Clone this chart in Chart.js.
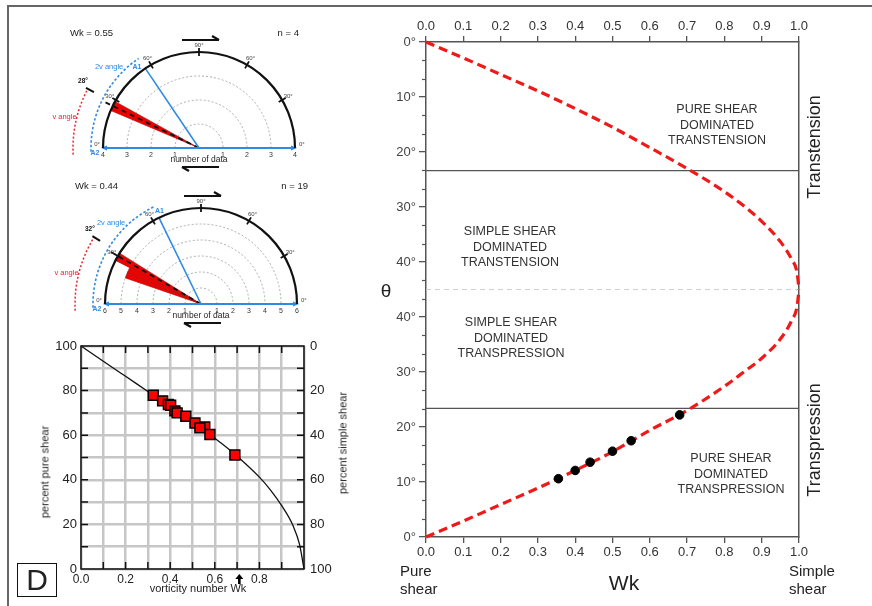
<!DOCTYPE html>
<html><head><meta charset="utf-8">
<script src="https://cdn.jsdelivr.net/npm/chart.js@4.4.1/dist/chart.umd.min.js"></script>
<style>
html,body{margin:0;padding:0;background:#fff;}
body{width:872px;height:606px;position:relative;overflow:hidden;font-family:"Liberation Sans",Arial,Helvetica,sans-serif;color:#222;}
canvas{position:absolute;}
.t{position:absolute;white-space:nowrap;line-height:1;transform:translate(-50%,-50%);}
.l{position:absolute;white-space:nowrap;line-height:1;transform:translate(0,-50%);}
.r{position:absolute;white-space:nowrap;line-height:1;transform:translate(-100%,-50%);}
.reg{position:absolute;transform:translate(-50%,-50%);text-align:center;font-size:12.5px;line-height:15.5px;color:#333;white-space:nowrap;}
.rot{position:absolute;white-space:nowrap;line-height:1;transform:translate(-50%,-50%) rotate(-90deg);}
</style></head><body>
<div style="position:absolute;left:7px;top:5px;width:865px;height:0;border-top:2px solid #666;"></div>
<div style="position:absolute;left:7px;top:5px;width:0;height:601px;border-left:2px solid #666;"></div>

<canvas id="rose1" width="340" height="250" style="left:0;top:0;"></canvas>
<canvas id="rose2" width="340" height="250" style="left:0;top:160px;"></canvas>
<canvas id="ll" width="332" height="276" style="left:8px;top:330px;"></canvas>
<canvas id="main" width="512" height="606" style="left:360px;top:0;"></canvas>

<!-- rose texts -->
<div class="l" style="left:70px;top:33px;font-size:9.5px;">Wk = 0.55</div>
<div class="r" style="left:299px;top:33px;font-size:9.5px;">n = 4</div>
<div class="l" style="left:75px;top:186px;font-size:9.5px;">Wk = 0.44</div>
<div class="r" style="left:308px;top:186px;font-size:9.5px;">n = 19</div>

<!-- lower-left texts -->
<div class="rot" style="left:45px;top:472px;font-size:11px;">percent pure shear</div>
<div class="rot" style="left:343px;top:443px;font-size:11px;">percent simple shear</div>
<div class="t" style="left:198px;top:588px;font-size:11px;">vorticity number Wk</div>
<div style="position:absolute;left:17px;top:563px;width:38px;height:32px;border:1.5px solid #111;font-size:30px;line-height:32px;text-align:center;">D</div>

<!-- main texts -->
<div class="reg" style="left:717px;top:125px;">PURE SHEAR<br>DOMINATED<br>TRANSTENSION</div>
<div class="reg" style="left:510px;top:247px;">SIMPLE SHEAR<br>DOMINATED<br>TRANSTENSION</div>
<div class="reg" style="left:511px;top:338px;">SIMPLE SHEAR<br>DOMINATED<br>TRANSPRESSION</div>
<div class="reg" style="left:731px;top:474px;">PURE SHEAR<br>DOMINATED<br>TRANSPRESSION</div>
<div class="rot" style="left:814px;top:147px;font-size:18px;">Transtension</div>
<div class="rot" style="left:814px;top:440px;font-size:18px;">Transpression</div>
<div class="t" style="left:386px;top:290px;font-size:19px;">θ</div>
<div class="t" style="left:624px;top:582px;font-size:21px;">Wk</div>
<div style="position:absolute;left:400px;top:562px;font-size:15px;line-height:17.5px;">Pure<br>shear</div>
<div style="position:absolute;left:789px;top:562px;font-size:15px;line-height:17.5px;">Simple<br>shear</div>

<script>
// ================= DATA =================
// Rose diagram 1 (Wk = 0.55, n = 4); angles in degrees measured from A2 (left end of base line)
const rose1PetalFrom = [23];
const rose1PetalTo   = [29];
const rose1Counts    = [4];
const rose1Max = 4;
const rose1V = 28;        // v angle
const rose1TwoV = 56;     // 2v angle (A1)
const rose1Mean = 26;     // mean petal direction

// Rose diagram 2 (Wk = 0.44, n = 19)
const rose2PetalFrom = [19, 23, 27];
const rose2PetalTo   = [23, 27, 32];
const rose2Counts    = [5, 5, 6];
const rose2Max = 6;
const rose2V = 32;
const rose2TwoV = 64;
const rose2Mean = 30;

// Lower-left: percent pure shear vs vorticity number Wk
const pureCurveWk  = [0, 0.1, 0.2, 0.3, 0.4, 0.5, 0.6, 0.7, 0.8, 0.85, 0.9, 0.95, 0.98, 1.0];
const pureCurvePct = [100, 93.2, 86.4, 79.6, 72.8, 65.8, 58.6, 50.6, 41.2, 35.4, 28.4, 19.6, 11, 0];
const squareWk  = [0.324, 0.366, 0.392, 0.402, 0.421, 0.431, 0.47, 0.511, 0.555, 0.533, 0.578, 0.69];
const squarePct = [77.9, 75.4, 73.8, 73.4, 70.9, 70.0, 68.5, 65.5, 63.7, 63.3, 60.3, 51.1];
const arrowWk = 0.71;

// Main: theta vs Wk
const curveWk = [0, 0.1, 0.2, 0.3, 0.4, 0.5, 0.6, 0.7, 0.8, 0.85, 0.9, 0.95, 0.98, 0.995, 1.0];
const transtensionTheta  = [0, 2.9, 5.9, 8.9, 12.1, 15.5, 19.2, 23.0, 27.2, 29.7, 32.6, 36.3, 39.5, 42.0, 45];
const transpressionTheta = [0, 2.9, 5.9, 8.9, 12.1, 15.5, 19.4, 23.0, 27.4, 29.9, 32.5, 36.0, 39.3, 42.0, 45];
const pointWk    = [0.355, 0.40, 0.44, 0.50, 0.55, 0.68];
const pointTheta = [10.6, 12.1, 13.6, 15.6, 17.5, 22.2];
const boundaryTheta = 23.4;
const midTheta = 45;

// ================= CHARTS =================
const FONT = '"Liberation Sans", Arial, Helvetica, sans-serif';
Chart.defaults.font.family = FONT;
Chart.defaults.animation = false;
const fixW = w => s => { s.width = w; };
const fixH = h => s => { s.height = h; };
const RED = '#ee1a1a', BLUE = '#2e8be3';

function buildRose(from, to, counts) {
  const vals = [], angs = [];
  let cur = 0;
  for (let i = 0; i < from.length; i++) {
    if (from[i] > cur) { vals.push(0); angs.push(from[i] - cur); }
    vals.push(counts[i]); angs.push(to[i] - from[i]);
    cur = to[i];
  }
  vals.push(0); angs.push(360 - cur);
  return {vals, angs};
}

function rosePlugin(info) {
  return {
    id: 'roseDecor' + info.key,
    beforeDatasetsDraw(chart) {
      const s = chart.scales.r, ctx = chart.ctx, cx = s.xCenter, cy = s.yCenter;
      ctx.save();
      ctx.strokeStyle = '#9a9a9a'; ctx.lineWidth = 0.8; ctx.setLineDash([2, 2]);
      for (let v = 1; v < info.max; v++) {
        ctx.beginPath(); ctx.arc(cx, cy, s.getDistanceFromCenterForValue(v), Math.PI, 2 * Math.PI); ctx.stroke();
      }
      ctx.restore();
    },
    afterDatasetsDraw(chart) {
      const s = chart.scales.r, ctx = chart.ctx, cx = s.xCenter, cy = s.yCenter;
      const R = s.getDistanceFromCenterForValue(info.max);
      const rad = a => Math.PI + a * Math.PI / 180;
      const P = (a, r) => [cx + r * Math.cos(rad(a)), cy + r * Math.sin(rad(a))];
      const line = (p, q) => { ctx.beginPath(); ctx.moveTo(p[0], p[1]); ctx.lineTo(q[0], q[1]); ctx.stroke(); };
      const text = (str, p, font, color, align) => { ctx.font = font; ctx.fillStyle = color; ctx.textAlign = align || 'center'; ctx.textBaseline = 'middle'; ctx.fillText(str, p[0], p[1]); };
      ctx.save();
      ctx.strokeStyle = '#111'; ctx.lineWidth = 1.8; ctx.setLineDash([5, 4]);
      line([cx, cy], P(info.mean, R + 12));
      ctx.setLineDash([]);
      ctx.strokeStyle = BLUE; ctx.lineWidth = 1.6;
      line([cx, cy], P(info.twoV, R));
      ctx.lineWidth = 1.8;
      line([cx - R, cy], [cx + R, cy]);
      ctx.fillStyle = BLUE;
      ctx.beginPath(); ctx.moveTo(cx + R + 2, cy); ctx.lineTo(cx + R - 4, cy - 2.5); ctx.lineTo(cx + R - 4, cy + 2.5); ctx.closePath(); ctx.fill();
      ctx.beginPath(); ctx.moveTo(cx - R - 2, cy); ctx.lineTo(cx - R + 4, cy - 2.5); ctx.lineTo(cx - R + 4, cy + 2.5); ctx.closePath(); ctx.fill();
      ctx.strokeStyle = '#111'; ctx.lineWidth = 2.2;
      ctx.beginPath(); ctx.arc(cx, cy, R, Math.PI, 2 * Math.PI); ctx.stroke();
      ctx.lineWidth = 1.8;
      [30, 60, 90, 120, 150].forEach(a => {
        line(P(a, R - 4), P(a, R + 4));
        text((a <= 90 ? a : 180 - a) + '°', P(a, R + 7), '6px ' + FONT, '#444');
      });
      text('0°', [cx - R - 3, cy - 4], '6px ' + FONT, '#444', 'right');
      text('0°', [cx + R + 4, cy - 4], '6px ' + FONT, '#444', 'left');
      ctx.strokeStyle = BLUE; ctx.lineWidth = 1.6; ctx.setLineDash([2.5, 2]);
      ctx.beginPath(); ctx.arc(cx, cy, R + 12, rad(-2), rad(info.twoV)); ctx.stroke();
      ctx.strokeStyle = '#e8262b'; ctx.lineWidth = 1.5; ctx.setLineDash([2, 2]);
      ctx.beginPath(); ctx.arc(cx, cy, R + 30, rad(-3), rad(info.v)); ctx.stroke();
      ctx.setLineDash([]);
      ctx.strokeStyle = '#111'; ctx.lineWidth = 2;
      line(P(info.v, R + 23), P(info.v, R + 32));
      text(info.v + '°', P(info.v + 2, R + 38), 'bold 6.5px ' + FONT, '#111');
      text('A1', P(info.a1Label, R + 6), 'bold 7px ' + FONT, BLUE);
      text('A2', [cx - R - 8, cy + 5], 'bold 7px ' + FONT, BLUE);
      text('2v angle', P(42, R + 25), '7.5px ' + FONT, BLUE);
      text('v angle', P(13, R + 42), '7.5px ' + FONT, '#e8262b');
      for (let v = 1; v <= info.max; v++) {
        const d = s.getDistanceFromCenterForValue(v);
        text(String(v), [cx - d, cy + 7], '7px ' + FONT, '#333');
        text(String(v), [cx + d, cy + 7], '7px ' + FONT, '#333');
      }
      text('number of data', [cx, cy + 12], '8.5px ' + FONT, '#222');
      ctx.strokeStyle = '#111'; ctx.lineWidth = 2.2;
      const ty = cy - R - 12, by = cy + 19;
      line([cx - 17, ty], [cx + 20, ty]);
      line([cx + 20, ty], [cx + 13, ty - 4]);
      line([cx + 20, by], [cx - 17, by]);
      line([cx - 17, by], [cx - 10, by + 4]);
      ctx.restore();
    }
  };
}

function makeRose(id, from, to, counts, info, pad) {
  const r = buildRose(from, to, counts);
  new Chart(document.getElementById(id), {
    type: 'polarArea',
    data: { datasets: [{
      label: 'number of data',
      data: r.vals,
      angle: c => r.angs[c.dataIndex],
      backgroundColor: c => r.vals[c.dataIndex] > 0 ? '#ee0000' : 'rgba(0,0,0,0)',
      borderColor: '#a01010',
      borderWidth: c => r.vals[c.dataIndex] > 0 ? 0.6 : 0
    }]},
    options: {
      responsive: false, animation: false,
      layout: { padding: pad },
      plugins: { legend: { display: false }, tooltip: { enabled: false } },
      scales: { r: { min: 0, max: info.max, startAngle: -90,
        ticks: { display: false, stepSize: 1 }, grid: { display: false },
        angleLines: { display: false }, pointLabels: { display: false } } }
    },
    plugins: [rosePlugin(info)]
  });
}
makeRose('rose1', rose1PetalFrom, rose1PetalTo, rose1Counts,
  { key: 1, max: rose1Max, v: rose1V, twoV: rose1TwoV, mean: rose1Mean, a1Label: 52.5 },
  { left: 103, right: 45, top: 52, bottom: 6 });
makeRose('rose2', rose2PetalFrom, rose2PetalTo, rose2Counts,
  { key: 2, max: rose2Max, v: rose2V, twoV: rose2TwoV, mean: rose2Mean, a1Label: 66 },
  { left: 105, right: 43, top: 48, bottom: 10 });

// ---- lower-left chart ----
const llPlugin = {
  id: 'llDecor',
  beforeDatasetsDraw(chart) {
    const {left, right, top, bottom} = chart.chartArea, ctx = chart.ctx;
    const xs = chart.scales.x, ys = chart.scales.y;
    ctx.save();
    ctx.strokeStyle = '#111'; ctx.lineWidth = 1.5;
    ctx.strokeRect(left, top, right - left, bottom - top);
    for (let k = 1; k < 10; k++) {
      const px = xs.getPixelForValue(k / 10), py = ys.getPixelForValue(k * 10);
      ctx.beginPath();
      ctx.moveTo(px, top); ctx.lineTo(px, top + 7);
      ctx.moveTo(px, bottom); ctx.lineTo(px, bottom - 7);
      ctx.moveTo(left, py); ctx.lineTo(left + 7, py);
      ctx.moveTo(right, py); ctx.lineTo(right - 7, py);
      ctx.stroke();
    }
    ctx.restore();
  },
  afterDraw(chart) {
    const ctx = chart.ctx, b = chart.chartArea.bottom, px = chart.scales.x.getPixelForValue(arrowWk);
    ctx.save(); ctx.fillStyle = '#000';
    ctx.beginPath(); ctx.moveTo(px, b + 5); ctx.lineTo(px - 4, b + 10); ctx.lineTo(px + 4, b + 10); ctx.closePath(); ctx.fill();
    ctx.fillRect(px - 1.3, b + 10, 2.6, 5);
    ctx.restore();
  }
};
new Chart(document.getElementById('ll'), {
  type: 'scatter',
  data: { datasets: [
    { label: 'samples', data: squareWk.map((w, i) => ({ x: w, y: squarePct[i] })), pointStyle: 'rect', pointRadius: 7,
      pointBackgroundColor: '#ff0000', pointBorderColor: '#000', pointBorderWidth: 1.5, showLine: false },
    { label: 'curve', data: pureCurveWk.map((w, i) => ({ x: w, y: pureCurvePct[i] })), showLine: true, borderColor: '#111',
      borderWidth: 1.3, pointRadius: 0, cubicInterpolationMode: 'monotone', clip: false }
  ]},
  options: {
    responsive: false, animation: false,
    layout: { padding: { top: 16, left: 0, right: 0, bottom: 0 } },
    plugins: { legend: { display: false }, tooltip: { enabled: false } },
    scales: {
      x: { type: 'linear', min: 0, max: 1,
        ticks: { stepSize: 0.1, autoSkip: false, maxRotation: 0, padding: 3, color: '#222', font: { size: 12 },
          callback: v => { const k = Math.round(v * 10); return (k % 2 === 0 && k < 10) ? v.toFixed(1) : ''; } },
        grid: { color: '#c6c6c6', lineWidth: 2.5, drawTicks: false }, border: { display: false }, afterFit: fixH(37) },
      y: { type: 'linear', min: 0, max: 100,
        ticks: { stepSize: 10, autoSkip: false, padding: 4, color: '#222', font: { size: 13 },
          callback: v => (Math.round(v) % 20 === 0 ? v : '') },
        grid: { color: '#c6c6c6', lineWidth: 2.5, drawTicks: false }, border: { display: false }, afterFit: fixW(73) },
      y2: { type: 'linear', position: 'right', min: 0, max: 100,
        ticks: { stepSize: 10, autoSkip: false, padding: 6, color: '#222', font: { size: 13 },
          callback: v => (Math.round(v) % 20 === 0 ? 100 - v : '') },
        grid: { drawOnChartArea: false, drawTicks: false, color: 'rgba(0,0,0,0)' }, border: { display: false }, afterFit: fixW(36) }
    }
  },
  plugins: [llPlugin]
});

// ---- main chart ----
const minorValues = [];
for (let k = 0; k <= 27; k++) { if (k % 3 !== 0) minorValues.push(k * 10 / 3); }
const minorPlugin = {
  id: 'minorTicks',
  afterDraw(chart) {
    const y = chart.scales.y, ctx = chart.ctx;
    ctx.save(); ctx.strokeStyle = '#555'; ctx.lineWidth = 1.2;
    minorValues.forEach(v => {
      const py = Math.round(y.getPixelForValue(v)) + 0.5;
      ctx.beginPath(); ctx.moveTo(y.right - 4, py); ctx.lineTo(y.right, py); ctx.stroke();
    });
    ctx.restore();
  }
};
const curveStyle = { showLine: true, borderColor: RED, borderWidth: 3.2, borderDash: [9, 5], pointRadius: 0,
  cubicInterpolationMode: 'monotone', clip: false, xAxisID: 'x', yAxisID: 'y' };
const ruleStyle = { showLine: true, pointRadius: 0, xAxisID: 'x', yAxisID: 'y' };
const axisX = (pos, h) => ({ type: 'linear', position: pos, min: 0, max: 1,
  ticks: { stepSize: 0.1, autoSkip: false, maxRotation: 0, padding: 2, color: '#333', font: { size: 13 }, callback: v => v.toFixed(1) },
  grid: { drawOnChartArea: false, drawTicks: true, tickLength: 6, color: '#555', lineWidth: 1.3 },
  border: { color: '#555', width: 1.5 }, afterFit: fixH(h) });
new Chart(document.getElementById('main'), {
  type: 'scatter',
  data: { datasets: [
    { label: 'samples', data: pointWk.map((w, i) => ({ x: w, y: 90 - pointTheta[i] })), pointRadius: 4.3,
      pointBackgroundColor: '#000', pointBorderColor: '#000', showLine: false, xAxisID: 'x', yAxisID: 'y' },
    Object.assign({ label: 'transtension', data: curveWk.map((w, i) => ({ x: w, y: transtensionTheta[i] })) }, curveStyle),
    Object.assign({ label: 'transpression', data: curveWk.map((w, i) => ({ x: w, y: 90 - transpressionTheta[i] })) }, curveStyle),
    Object.assign({ label: 'upper boundary', data: [{ x: 0, y: boundaryTheta }, { x: 1, y: boundaryTheta }], borderColor: '#555', borderWidth: 1.2 }, ruleStyle),
    Object.assign({ label: 'lower boundary', data: [{ x: 0, y: 90 - boundaryTheta }, { x: 1, y: 90 - boundaryTheta }], borderColor: '#555', borderWidth: 1.2 }, ruleStyle),
    Object.assign({ label: '45', data: [{ x: 0, y: midTheta }, { x: 1, y: midTheta }], borderColor: '#d0d0d0', borderWidth: 1, borderDash: [5, 4] }, ruleStyle)
  ]},
  options: {
    responsive: false, animation: false,
    layout: { padding: 0 },
    plugins: { legend: { display: false }, tooltip: { enabled: false } },
    scales: {
      x: axisX('top', 42),
      xb: axisX('bottom', 69),
      y: { type: 'linear', position: 'left', reverse: true, min: 0, max: 90,
        ticks: { stepSize: 10, autoSkip: false, padding: 3, color: '#444', font: { size: 13 },
          callback: v => (v <= 45 ? v : 90 - v) + '°' },
        grid: { drawOnChartArea: false, tickLength: 7, color: '#555', lineWidth: 1.3 },
        border: { color: '#555', width: 1.5 }, afterFit: fixW(66) },
      y2: { type: 'linear', position: 'right', min: 0, max: 90, ticks: { display: false },
        grid: { drawOnChartArea: false, drawTicks: false, color: 'rgba(0,0,0,0)' },
        border: { display: true, color: '#555', width: 1.5 }, afterFit: fixW(73) }
    }
  },
  plugins: [minorPlugin]
});
</script>
</body></html>
